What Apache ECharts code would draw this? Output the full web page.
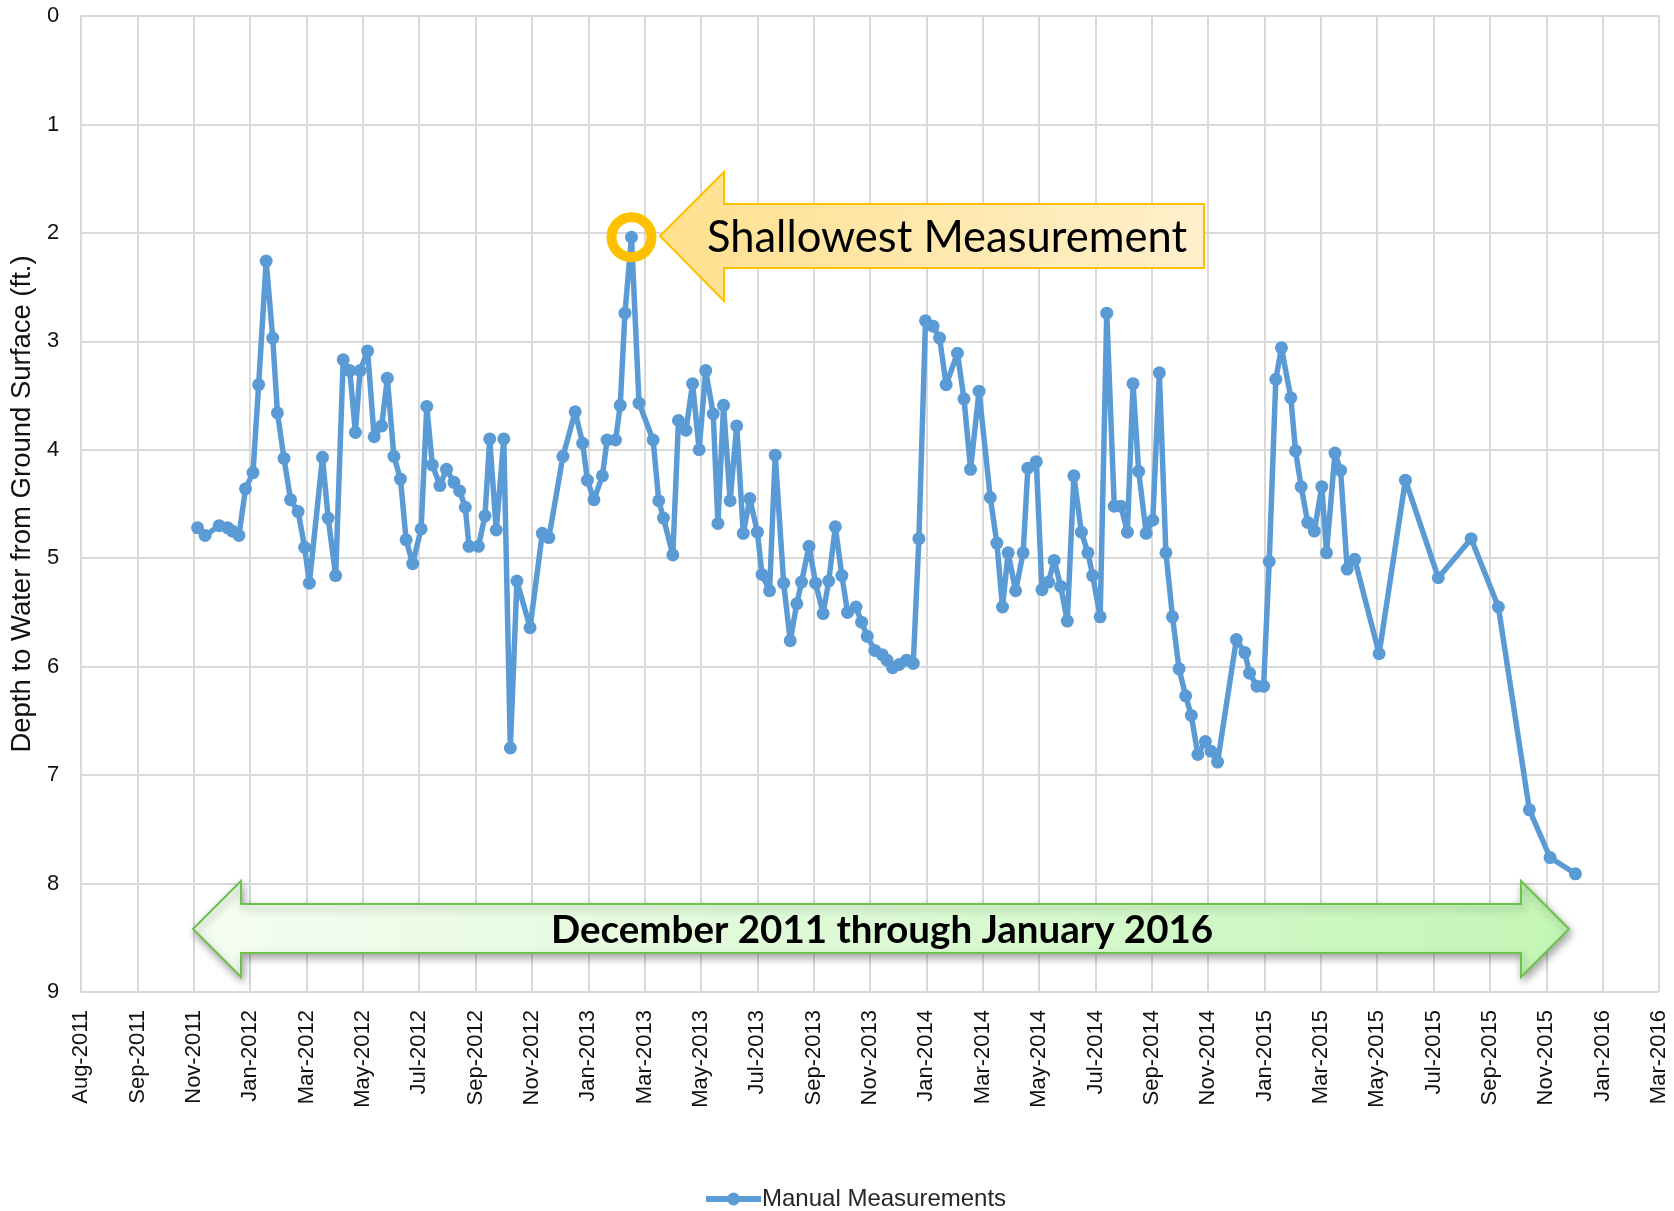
<!DOCTYPE html>
<html>
<head>
  <meta charset="utf-8">
  <title>Depth to Water</title>
  <script src="https://cdn.jsdelivr.net/npm/echarts@6/dist/echarts.min.js"></script>
  <style>
    html, body { margin: 0; padding: 0; background: #fff; }
  </style>
</head>
<body>
<div id="main" style="width: 1674px;height:1211px;"></div>
<script type="text/javascript">

// measurement dates and depth to water (ft.)
var dates = [
  '2011-12-03','2011-12-11','2011-12-26','2012-01-04','2012-01-09','2012-01-16','2012-01-23','2012-01-31',
  '2012-02-06','2012-02-14','2012-02-21','2012-02-26','2012-03-04','2012-03-11','2012-03-19','2012-03-26',
  '2012-03-31','2012-04-14','2012-04-20','2012-04-28','2012-05-06','2012-05-13','2012-05-19','2012-05-24',
  '2012-06-01','2012-06-08','2012-06-16','2012-06-22','2012-06-29','2012-07-06','2012-07-12','2012-07-19',
  '2012-07-28','2012-08-03','2012-08-09','2012-08-17','2012-08-24','2012-09-01','2012-09-07','2012-09-13',
  '2012-09-17','2012-09-27','2012-10-04','2012-10-09','2012-10-16','2012-10-24','2012-10-31','2012-11-07',
  '2012-11-21','2012-12-04','2012-12-11','2012-12-26','2013-01-08','2013-01-16','2013-01-21','2013-01-28',
  '2013-02-06','2013-02-11','2013-02-20','2013-02-25','2013-03-02','2013-03-09','2013-03-17','2013-04-01',
  '2013-04-07','2013-04-12','2013-04-22','2013-04-28','2013-05-06','2013-05-13','2013-05-20','2013-05-27',
  '2013-06-04','2013-06-09','2013-06-15','2013-06-22','2013-06-29','2013-07-06','2013-07-13','2013-07-21',
  '2013-07-26','2013-08-03','2013-08-09','2013-08-18','2013-08-25','2013-09-01','2013-09-06','2013-09-14',
  '2013-09-21','2013-09-29','2013-10-05','2013-10-12','2013-10-19','2013-10-25','2013-11-03','2013-11-09',
  '2013-11-15','2013-11-23','2013-12-01','2013-12-06','2013-12-12','2013-12-19','2013-12-27','2014-01-03',
  '2014-01-09','2014-01-16','2014-01-24','2014-01-31','2014-02-07','2014-02-19','2014-02-26','2014-03-05',
  '2014-03-14','2014-03-26','2014-04-02','2014-04-08','2014-04-14','2014-04-22','2014-04-30','2014-05-05',
  '2014-05-14','2014-05-20','2014-05-27','2014-06-02','2014-06-09','2014-06-16','2014-06-23','2014-07-01',
  '2014-07-08','2014-07-13','2014-07-21','2014-07-28','2014-08-05','2014-08-12','2014-08-19','2014-08-25',
  '2014-08-31','2014-09-08','2014-09-15','2014-09-22','2014-09-29','2014-10-06','2014-10-13','2014-10-20',
  '2014-10-26','2014-11-02','2014-11-10','2014-11-16','2014-11-23','2014-12-13','2014-12-22','2014-12-27',
  '2015-01-04','2015-01-11','2015-01-17','2015-01-24','2015-01-30','2015-02-09','2015-02-14','2015-02-20',
  '2015-02-27','2015-03-06','2015-03-14','2015-03-19','2015-03-28','2015-04-03','2015-04-10','2015-04-18',
  '2015-05-14','2015-06-11','2015-07-16','2015-08-20','2015-09-18','2015-10-21','2015-11-12','2015-12-09'
];

var depth = [
  4.72, 4.79, 4.70, 4.72, 4.75, 4.79, 4.36, 4.21,
  3.40, 2.26, 2.97, 3.66, 4.08, 4.46, 4.57, 4.90,
  5.23, 4.07, 4.63, 5.16, 3.17, 3.27, 3.84, 3.27,
  3.09, 3.88, 3.78, 3.34, 4.06, 4.27, 4.83, 5.05,
  4.73, 3.60, 4.14, 4.33, 4.18, 4.30, 4.38, 4.53,
  4.89, 4.89, 4.61, 3.90, 4.74, 3.90, 6.75, 5.21,
  5.64, 4.77, 4.81, 4.06, 3.65, 3.94, 4.28, 4.46,
  4.24, 3.91, 3.91, 3.59, 2.74, 2.04, 3.57, 3.91,
  4.47, 4.63, 4.97, 3.73, 3.82, 3.39, 4.00, 3.27,
  3.67, 4.68, 3.59, 4.47, 3.78, 4.77, 4.45, 4.76,
  5.15, 5.30, 4.05, 5.23, 5.76, 5.42, 5.22, 4.89,
  5.23, 5.51, 5.21, 4.71, 5.16, 5.50, 5.45, 5.59,
  5.72, 5.85, 5.89, 5.94, 6.01, 5.98, 5.94, 5.97,
  4.82, 2.81, 2.86, 2.97, 3.40, 3.11, 3.53, 4.18,
  3.46, 4.44, 4.86, 5.45, 4.95, 5.30, 4.95, 4.17,
  4.11, 5.29, 5.22, 5.02, 5.26, 5.58, 4.24, 4.76,
  4.95, 5.16, 5.54, 2.74, 4.52, 4.52, 4.76, 3.39,
  4.20, 4.77, 4.65, 3.29, 4.95, 5.54, 6.02, 6.27,
  6.45, 6.81, 6.69, 6.78, 6.88, 5.75, 5.87, 6.06,
  6.18, 6.18, 5.03, 3.35, 3.06, 3.52, 4.01, 4.34,
  4.67, 4.75, 4.34, 4.95, 4.03, 4.19, 5.10, 5.01,
  5.88, 4.28, 5.18, 4.82, 5.45, 7.32, 7.76, 7.91
];

var monthNames = ['Jan','Feb','Mar','Apr','May','Jun','Jul','Aug','Sep','Oct','Nov','Dec'];
var axisStart = Date.UTC(2011, 7, 1);   // Aug-2011, ticks every 60 days
var DAY = 86400000;

function dayOffset(s) {
  var p = s.split('-');
  return (Date.UTC(+p[0], +p[1] - 1, +p[2]) - axisStart) / DAY;
}

var seriesData = dates.map(function (d, i) { return [dayOffset(d), depth[i]]; });

// shallowest point gets the ring
var minIdx = 0;
for (var i = 1; i < depth.length; i++) { if (depth[i] < depth[minIdx]) minIdx = i; }

var myChart = echarts.init(document.getElementById('main'));

var gridColor = '#d9d9d9';
var blue = '#5B9BD5';

var option = {
  animation: false,
  grid: { left: 78, top: 16, right: 15, bottom: 219, containLabel: false },
  legend: {
    data: ['Manual Measurements'],
    left: 698,
    top: 1182,
    itemWidth: 55,
    itemHeight: 16,
    itemGap: 10,
    lineStyle: { width: 6 },
    textStyle: { fontFamily: 'Liberation Sans, Arial', fontSize: 24, color: '#262626', padding: [0, 0, 0, -4] }
  },
  xAxis: {
    type: 'value',
    min: 0,
    max: 1680,
    interval: 60,
    axisLine: { show: true, lineStyle: { color: gridColor, width: 2 } },
    axisTick: { show: true, length: 7, lineStyle: { color: gridColor, width: 2 } },
    splitLine: { show: true, lineStyle: { color: gridColor, width: 2 } },
    axisLabel: {
      rotate: 90,
      margin: 18,
      fontFamily: 'Liberation Sans, Arial',
      fontSize: 22,
      color: '#111',
      formatter: function (v) {
        var d = new Date(axisStart + v * DAY);
        return monthNames[d.getUTCMonth()] + '-' + d.getUTCFullYear();
      }
    }
  },
  yAxis: {
    type: 'value',
    inverse: true,
    min: 0,
    max: 9,
    interval: 1,
    name: 'Depth to Water from Ground Surface (ft.)',
    nameLocation: 'middle',
    nameGap: 42,
    nameTextStyle: { fontFamily: 'Liberation Sans, Arial', fontSize: 27.5, color: '#111' },
    axisLine: { show: true, onZero: false, lineStyle: { color: gridColor, width: 2 } },
    axisTick: { show: false },
    splitLine: { show: true, lineStyle: { color: gridColor, width: 2 } },
    axisLabel: { margin: 22, fontFamily: 'Liberation Sans, Arial', fontSize: 22, color: '#111' }
  },
  series: [
    {
      name: 'Manual Measurements',
      type: 'line',
      data: seriesData,
      symbol: 'circle',
      symbolSize: 13,
      showAllSymbol: true,
      lineStyle: { color: blue, width: 5.5 },
      itemStyle: { color: blue },
      markPoint: {
        symbol: 'circle',
        symbolSize: 40,
        silent: true,
        label: { show: false },
        itemStyle: { color: 'rgba(0,0,0,0)', borderColor: '#FFC000', borderWidth: 10 },
        data: [{ coord: seriesData[minIdx] }]
      }
    }
  ],
  graphic: [
    {
      type: 'polygon',
      z: 100,
      shape: { points: [[660, 236], [724, 172], [724, 204], [1204, 204], [1204, 268], [724, 268], [724, 301]] },
      style: {
        fill: { type: 'linear', x: 0, y: 0, x2: 1, y2: 0,
          colorStops: [{ offset: 0, color: '#FFE08E' }, { offset: 1, color: '#FFF0CC' }] },
        stroke: '#FFC000',
        lineWidth: 2
      }
    },
    {
      type: 'text',
      z: 101,
      left: 707,
      top: 216,
      style: { text: 'Shallowest Measurement', font: '43.5px Lato', fill: '#000' }
    },
    {
      type: 'polygon',
      z: 100,
      shape: { points: [[193, 929], [241, 881], [241, 904], [1521, 904], [1521, 881], [1569, 929],
                        [1521, 977], [1521, 953], [241, 953], [241, 977]] },
      style: {
        fill: { type: 'linear', x: 0, y: 0, x2: 1, y2: 0,
          colorStops: [{ offset: 0, color: '#F5FDF2' }, { offset: 1, color: '#C3F6B6' }] },
        stroke: '#6CC24A',
        lineWidth: 2,
        shadowBlur: 8,
        shadowOffsetX: 2,
        shadowOffsetY: 4,
        shadowColor: 'rgba(0,0,0,0.35)'
      }
    },
    {
      type: 'text',
      z: 101,
      left: 551,
      top: 911,
      style: { text: 'December 2011 through January 2016', font: 'bold 38.5px Lato', fill: '#000' }
    }
  ]
};

myChart.setOption(option);

</script>
</body>
</html>
